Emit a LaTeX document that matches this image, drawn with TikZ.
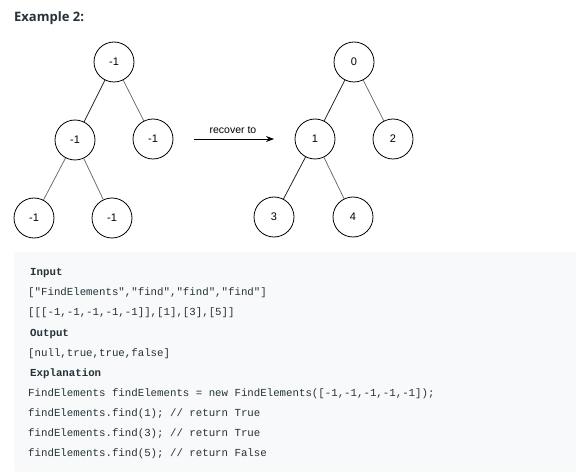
\documentclass[tikz,border=0pt]{standalone}
\usepackage{fontspec}
\setmainfont{Liberation Sans}
\newfontfamily\titlefont{Open Sans}
\newfontfamily\codefont{Liberation Mono}
\usetikzlibrary{arrows.meta}
\definecolor{txt}{HTML}{263238}
\definecolor{codebg}{HTML}{F7F9FA}
\definecolor{edgegray}{HTML}{707070}
\begin{document}
\begin{tikzpicture}[x=1pt,y=1pt,
  tnode/.style={circle,draw=black,line width=0.8pt,minimum size=40pt,inner sep=0pt,font=\fontsize{11}{13}\selectfont},
  darkedge/.style={draw=black!85,line width=0.8pt},
  grayedge/.style={draw=edgegray,line width=0.8pt},
  codeline/.style={anchor=base west,inner sep=0pt,text=txt,font=\codefont\fontsize{10.75}{12}\selectfont},
  codehead/.style={codeline,font=\codefont\bfseries\fontsize{10.75}{12}\selectfont}]
\useasboundingbox (0,0) rectangle (576,-473);
\fill[white] (0,0) rectangle (576,-473);
\node[anchor=base west,inner sep=0pt,text=txt,font=\titlefont\bfseries\fontsize{13}{15}\selectfont] (title) at (14,-22) {Example 2:};
% left tree
\node[tnode] (a) at (114,-62) {-1};
\node[tnode] (b) at (75,-140) {-1};
\node[tnode] (c) at (153,-139) {-1};
\node[tnode] (d) at (34,-218) {-1};
\node[tnode] (e) at (112,-218) {-1};
\draw[darkedge] (a) -- (b);
\draw[grayedge] (a) -- (c);
\draw[grayedge] (b) -- (d);
\draw[grayedge] (b) -- (e);
% arrow
\coordinate (as) at (194,-139);
\coordinate (ae) at (274,-139);
\draw[line width=0.8pt,-{Stealth[length=8pt,width=6pt]}] (as) -- (ae);
\node[anchor=base,inner sep=0pt,font=\fontsize{10.5}{12}\selectfont] (lab) at (233,-134) {recover to};
% right tree
\node[tnode] (r0) at (354,-62) {0};
\node[tnode] (r1) at (315,-139) {1};
\node[tnode] (r2) at (393,-139) {2};
\node[tnode] (r3) at (274,-217) {3};
\node[tnode] (r4) at (353,-217) {4};
\draw[darkedge] (r0) -- (r1);
\draw[grayedge] (r0) -- (r2);
\draw[darkedge] (r1) -- (r3);
\draw[grayedge] (r1) -- (r4);
% code block
\fill[codebg,rounded corners=3pt] (14,-252) rectangle (580,-472);
\node[codehead] (l1) at (30,-276) {Input};
\node[codeline] (l2) at (28,-296) {["FindElements","find","find","find"]};
\node[codeline] (l3) at (28,-316) {[[[-1,-1,-1,-1,-1]],[1],[3],[5]]};
\node[codehead] (l4) at (30,-336) {Output};
\node[codeline] (l5) at (28,-356) {[null,true,true,false]};
\node[codehead] (l6) at (30,-376) {Explanation};
\node[codeline] (l7) at (28,-396) {FindElements findElements = new FindElements([-1,-1,-1,-1,-1]);};
\node[codeline] (l8) at (28,-416) {findElements.find(1); // return True};
\node[codeline] (l9) at (28,-436) {findElements.find(3); // return True};
\node[codeline] (l10) at (28,-456) {findElements.find(5); // return False};
\end{tikzpicture}
\end{document}
